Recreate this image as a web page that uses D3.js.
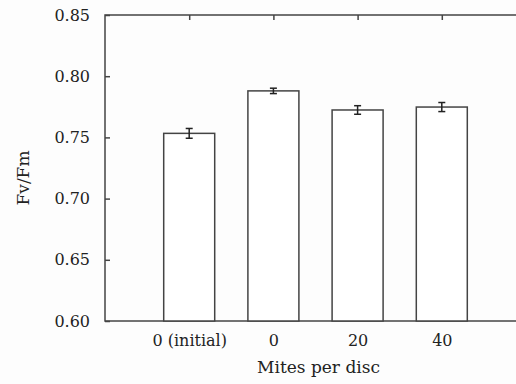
<!DOCTYPE html>
<html>
<head>
<meta charset="utf-8">
<script src="https://cdn.jsdelivr.net/npm/d3@7"></script>
<style>
  body { margin: 0; background: #fdfdfd; }
</style>
</head>
<body>
<script>
// data
var categories = ['0 (initial)', '0', '20', '40'];
var means = [0.7533, 0.788, 0.7724, 0.7748];
var errors = [0.004, 0.0022, 0.0035, 0.0037];
var yTicks = [0.60, 0.65, 0.70, 0.75, 0.80, 0.85];

var W = 516, H = 384;
// note: "top" is reserved on window, so use plot* names
var plotL = 105, plotR = 526, plotT = 15, plotB = 321;
var ink = '#444';
var serif = '"DejaVu Serif", serif';

var svg = d3.select('body').append('svg').attr('width', W).attr('height', H)
    .style('font-family', serif);

// slots -1..4, bars at 0..3
var x = d3.scaleLinear().domain([-1, 4]).range([plotL, plotR]);
var y = d3.scaleLinear().domain([0.60, 0.85]).range([plotB, plotT]);
var barW = 51;

// frame
svg.append('rect')
    .attr('x', plotL).attr('y', plotT)
    .attr('width', plotR - plotL).attr('height', plotB - plotT)
    .attr('fill', 'none').attr('stroke', ink).attr('stroke-width', 1.5);

// y axis, ticks inward
var yAxis = d3.axisLeft(y).tickValues(yTicks).tickFormat(d3.format('.2f')).tickSize(-5).tickPadding(15);
var gy = svg.append('g').attr('transform', 'translate(' + plotL + ',0)').call(yAxis);
gy.attr('font-family', null);
gy.select('.domain').remove();
gy.selectAll('.tick line').attr('stroke', ink).attr('stroke-width', 1.5);
gy.selectAll('.tick text').attr('font-size', 16).attr('fill', '#222').style('font-family', serif);

// x axis, ticks inward
var xAxis = d3.axisBottom(x).tickValues(d3.range(categories.length))
    .tickFormat(function(i){ return categories[i]; }).tickSize(-5).tickPadding(14);
var gx = svg.append('g').attr('transform', 'translate(0,' + plotB + ')').call(xAxis);
gx.attr('font-family', null);
gx.select('.domain').remove();
gx.selectAll('.tick line').attr('stroke', ink).attr('stroke-width', 1.5);
gx.selectAll('.tick text').attr('font-size', 16).attr('fill', '#222').style('font-family', serif);

// top ticks
var gt = svg.append('g').attr('transform', 'translate(0,' + plotT + ')')
    .call(d3.axisTop(x).tickValues(d3.range(categories.length)).tickSize(-5).tickFormat(''));
gt.select('.domain').remove();
gt.selectAll('.tick line').attr('stroke', ink).attr('stroke-width', 1.5);

// bars
svg.selectAll('.bar').data(means).enter().append('rect')
    .attr('class', 'bar')
    .attr('x', function(d, i){ return x(i) - barW / 2; })
    .attr('y', function(d){ return y(d); })
    .attr('width', barW)
    .attr('height', function(d){ return plotB - y(d); })
    .attr('fill', '#fff').attr('stroke', ink).attr('stroke-width', 1.5);

// error bars
var eb = svg.selectAll('.err').data(means).enter().append('g').attr('class', 'err');
eb.append('line')
    .attr('x1', function(d, i){ return x(i); }).attr('x2', function(d, i){ return x(i); })
    .attr('y1', function(d, i){ return y(d + errors[i]); })
    .attr('y2', function(d, i){ return y(d - errors[i]); })
    .attr('stroke', '#222').attr('stroke-width', 1.5);
[1, -1].forEach(function(s){
  eb.append('line')
    .attr('x1', function(d, i){ return x(i) - 3.5; }).attr('x2', function(d, i){ return x(i) + 3.5; })
    .attr('y1', function(d, i){ return y(d + s * errors[i]); })
    .attr('y2', function(d, i){ return y(d + s * errors[i]); })
    .attr('stroke', '#222').attr('stroke-width', 1.5);
});

// axis titles
svg.append('text').text('Mites per disc')
    .attr('x', (plotL + plotR) / 2 + 3).attr('y', 373)
    .attr('text-anchor', 'middle').attr('font-size', 17).attr('fill', '#222');
svg.append('text').text('Fv/Fm')
    .attr('transform', 'translate(29,178) rotate(-90)')
    .attr('text-anchor', 'middle').attr('font-size', 17).attr('fill', '#222');
</script>
</body>
</html>
